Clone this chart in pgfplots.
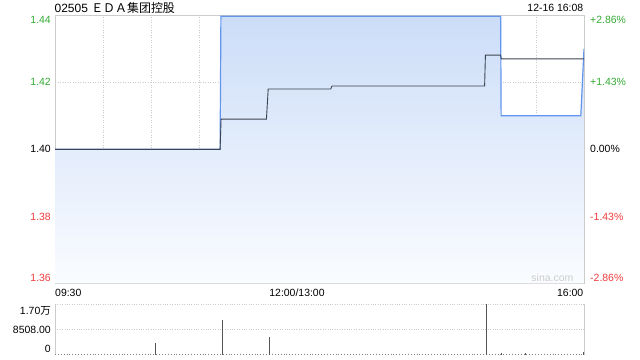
\documentclass[border=0pt]{standalone}
\usepackage{pgfplots}
\pgfplotsset{compat=1.18}
\usepackage{fontspec}
\setmainfont{Liberation Sans}
\newfontfamily\cjk{Noto Sans CJK SC}
\definecolor{upg}{HTML}{33AA33}
\definecolor{dnr}{HTML}{F03C3C}
\definecolor{gridc}{HTML}{CCCCCC}
\definecolor{pline}{HTML}{6495ED}
\definecolor{aline}{HTML}{3C4450}
\definecolor{ftop}{HTML}{CCDDF8}
\definecolor{fbot}{HTML}{FAFCFF}
\definecolor{volc}{HTML}{555555}
\begin{document}
\begin{tikzpicture}[font=\fontsize{10.5}{12}\selectfont]
\path[use as bounding box] (0,0) rectangle (640bp,360bp);
% main price axis
\begin{axis}[
  at={(55bp,76.7bp)}, anchor=south west, scale only axis,
  width=529bp, height=268bp,
  xmin=0, xmax=330, ymin=1.36, ymax=1.44,
  axis line style={gridc},
  xtick={30,60,...,300}, xticklabels={},
  ytick={1.38,1.42}, yticklabels={},
  scaled ticks=false,
  major tick length=0pt,
  grid=major, grid style={gridc, dash pattern=on 1bp off 1.5bp, line width=0.8bp},
  extra y ticks={1.40}, extra y tick labels={},
  extra y tick style={grid style={color=gray!80, dash pattern=on 3bp off 2bp, line width=0.6bp}},
]
\addplot[draw=none, top color=ftop, bottom color=fbot] coordinates {
 (0,1.40) (103,1.40) (103.5,1.4397) (278,1.4397) (278.3,1.410) (328,1.410) (330,1.430)
 (330,1.36) (0,1.36)} -- cycle;
\addplot[pline, line width=1.2bp] coordinates {
 (0,1.40) (103,1.40) (103.5,1.4397) (278,1.4397) (278.3,1.410) (328,1.410) (330,1.430)};
\addplot[aline, line width=0.9bp] coordinates {
 (0,1.40) (103,1.40) (103.6,1.409) (131.9,1.409) (133,1.418) (172,1.418) (172.8,1.4189)
 (268,1.4189) (268.5,1.4281) (278,1.4281) (278.4,1.4270) (330,1.4270)};
\end{axis}
% volume axis
\begin{axis}[
  at={(55bp,5.5bp)}, anchor=south west, scale only axis,
  width=529bp, height=50.2bp,
  xmin=0, xmax=330, ymin=0, ymax=17016,
  axis line style={draw=none},
  xtick=\empty, ytick={8508,17016}, yticklabels={},
  scaled ticks=false,
  major tick length=0pt,
  ymajorgrids, grid style={gridc, dotted, line width=0.9bp},
  clip=false,
]
\draw[gridc, line width=0.8bp] (rel axis cs:0,0) -- (rel axis cs:0,1);
\draw[gridc, line width=0.8bp] (rel axis cs:1,0) -- (rel axis cs:1,1);
\draw[gray, dotted, line width=0.9bp] (rel axis cs:0,0) -- (rel axis cs:1,0);
\addplot[ycomb, volc, line width=1bp, mark=none] coordinates {
 (62.4,3900) (104.2,11690) (134.1,5930) (268.9,17016) (278.8,650) (293.8,650) (329.4,700)};
\end{axis}
% texts
\node[anchor=base west, inner sep=0pt, font=\fontsize{12}{14}\selectfont] at (54.5bp,347.7bp) {02505 {\cjk ＥＤＡ集团控股}};
\node[anchor=base east, inner sep=0pt] at (583.5bp,348bp) {12-16 16:08};
\node[anchor=base east, inner sep=0pt, text=upg] at (51bp,336bp) {1.44};
\node[anchor=base east, inner sep=0pt, text=upg] at (51bp,274bp) {1.42};
\node[anchor=base east, inner sep=0pt, text=black] at (51bp,207bp) {1.40};
\node[anchor=base east, inner sep=0pt, text=dnr] at (51bp,139.3bp) {1.38};
\node[anchor=base east, inner sep=0pt, text=dnr] at (51bp,78.3bp) {1.36};
\node[anchor=base west, inner sep=0pt, text=upg] at (590bp,336bp) {+2.86\%};
\node[anchor=base west, inner sep=0pt, text=upg] at (590bp,274bp) {+1.43\%};
\node[anchor=base west, inner sep=0pt, text=black] at (590bp,207bp) {0.00\%};
\node[anchor=base west, inner sep=0pt, text=dnr] at (590bp,139.3bp) {-1.43\%};
\node[anchor=base west, inner sep=0pt, text=dnr] at (590bp,78bp) {-2.86\%};
\node[anchor=base east, inner sep=0pt, text=gridc] at (573.5bp,78bp) {sina.com};
\node[anchor=base west, inner sep=0pt] at (55bp,63.3bp) {09:30};
\node[anchor=base, inner sep=0pt] at (297bp,63.3bp) {12:00/13:00};
\node[anchor=base east, inner sep=0pt] at (583.5bp,63.3bp) {16:00};
\node[anchor=base east, inner sep=0pt] at (51bp,45bp) {1.70{\cjk 万}};
\node[anchor=base east, inner sep=0pt] at (51bp,26.7bp) {8508.00};
\node[anchor=base east, inner sep=0pt] at (51bp,7.7bp) {0};
\end{tikzpicture}
\end{document}
